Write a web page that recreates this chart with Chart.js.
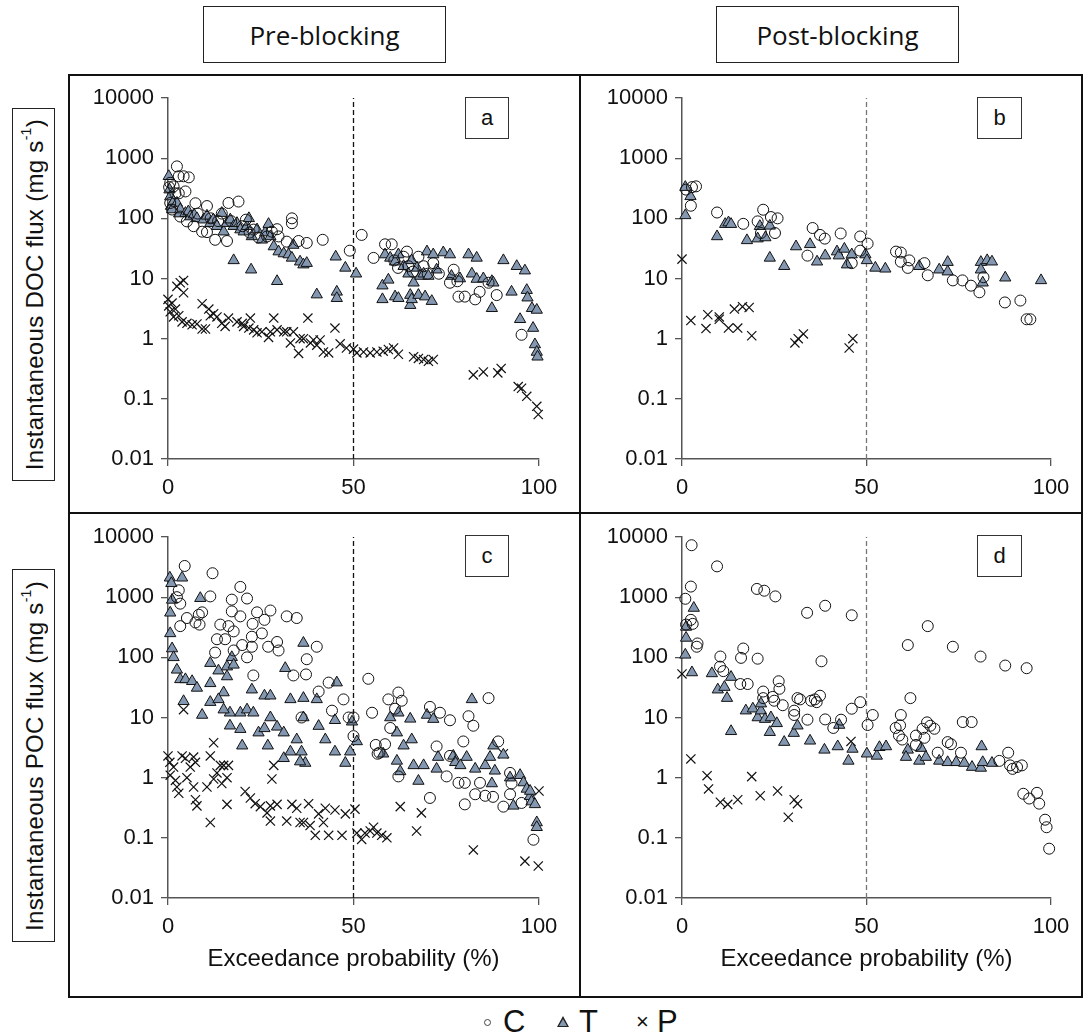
<!DOCTYPE html>
<html>
<head>
<meta charset="utf-8">
<script src="https://cdn.jsdelivr.net/npm/chart.js@4.4.1/dist/chart.umd.min.js"></script>
<style>
  body { margin: 0; background: #fff; }
  #page { position: relative; width: 1083px; height: 1036px; background: #fff; font-family: "Liberation Sans", Arial, sans-serif; color: #111; }
  .abs { position: absolute; box-sizing: border-box; }
  .head { border: 1px solid #222; font-family: "Open Sans", sans-serif; font-size: 26px; display: flex; align-items: center; justify-content: center; }
  .tag { border: 1px solid #333; font-size: 22px; display: flex; align-items: center; justify-content: center; background: #fff; z-index: 2; }
  .ylab { border: 1px solid #222; display: flex; align-items: center; justify-content: center; }
  .ylab span { writing-mode: vertical-rl; transform: rotate(180deg); font-size: 24px; letter-spacing: 0.3px; white-space: nowrap; }
  .ylab sup { font-size: 14px; }
  canvas { position: absolute; }
  .lg { position: absolute; top: 1004px; height: 36px; line-height: 36px; font-size: 31px; }
</style>
</head>
<body>
<div id="page">
  <div class="abs head" style="left:203px;top:6px;width:243px;height:57px">Pre-blocking</div>
  <div class="abs head" style="left:716px;top:6px;width:243px;height:57px">Post-blocking</div>

  <div class="abs" style="left:68px;top:74px;width:1015px;height:924px;border:2px solid #111"></div>
  <div class="abs" style="left:579px;top:74px;width:2px;height:924px;background:#111"></div>
  <div class="abs" style="left:68px;top:512px;width:1015px;height:2px;background:#111"></div>

  <div class="abs ylab" style="left:12px;top:108px;width:43px;height:373px"><span>Instantaneous DOC flux (mg s<sup>-1</sup>)</span></div>
  <div class="abs ylab" style="left:12px;top:569px;width:43px;height:373px"><span>Instantaneous POC flux (mg s<sup>-1</sup>)</span></div>

  <canvas id="cA" width="511" height="438" style="left:69px;top:75px"></canvas>
  <canvas id="cB" width="501" height="438" style="left:581px;top:75px"></canvas>
  <canvas id="cC" width="511" height="482" style="left:69px;top:514px"></canvas>
  <canvas id="cD" width="501" height="482" style="left:581px;top:514px"></canvas>

  <div class="abs tag" style="left:465px;top:97px;width:44px;height:42px">a</div>
  <div class="abs tag" style="left:977px;top:97px;width:45px;height:42px">b</div>
  <div class="abs tag" style="left:465px;top:535px;width:44px;height:42px">c</div>
  <div class="abs tag" style="left:977px;top:535px;width:45px;height:42px">d</div>

  <!-- legend -->
  <div class="abs" style="left:484px;top:1019px;width:7px;height:7px;border:1.5px solid #444;border-radius:50%"></div>
  <div class="lg" style="left:503px">C</div>
  <div class="abs" style="left:557px;top:1016px;width:12px;height:11px;background:#222;clip-path:polygon(50% 0,100% 100%,0 100%)"></div>
  <div class="abs" style="left:559px;top:1019px;width:8px;height:7px;background:#8497b0;clip-path:polygon(50% 0,100% 100%,0 100%)"></div>
  <div class="lg" style="left:579px">T</div>
  <div class="lg" style="left:636px;font-size:22px">&#215;</div>
  <div class="lg" style="left:657px">P</div>
</div>

<script>
// axis ticks
const xTicks = [0, 50, 100];
const yTicks = [0.01, 0.1, 1, 10, 100, 1000, 10000];
const seriesNames = ["C", "T", "P"];

// (a) DOC pre-blocking  [exceedance %, flux]
const docPreC = [[0.3,330],[0.6,390],[0.6,180],[1.1,140],[1.5,340],[2,260],[2.4,730],[2.9,260],[2.9,500],[3.3,107],[4.2,500],[4.7,280],[5.1,89],[5.6,480],[6.9,74],[7.4,178],[8,120],[9.2,60],[10.5,160],[10.5,59],[11.5,100],[12.7,44],[13.5,90],[14.5,120],[15.9,42],[16.3,180],[17,90],[19,190],[20,74],[21,95],[22,58],[23.1,65],[24.4,48],[26.7,50],[28,60],[29.4,66],[29.8,50],[32,41],[33.4,100],[33.4,83],[35.2,42],[37.4,39],[41.7,44],[49,29],[52.2,53],[55.4,22],[58.5,37],[60.3,37],[61,20],[62,15],[63.5,23],[64.4,28],[64.8,16],[66,13],[67.5,23],[68.9,16],[70,12],[71.5,18],[73,12],[76,8.5],[77,14],[78,9],[78.3,5],[80,5],[82.8,4.5],[84,6],[86.4,8.5],[88.6,5.3],[95.3,1.16]];
const docPreT = [[0.2,500],[0.4,300],[0.6,230],[0.8,160],[1.1,140],[1.5,190],[2.4,180],[3,120],[3.3,140],[4.7,122],[5.5,130],[6,107],[7,115],[7.8,100],[9.6,95],[10.5,110],[11.4,83],[12.2,95],[13.2,74],[14.5,122],[15,60],[15.9,83],[16.8,95],[17.7,74],[17.7,20],[18.6,83],[19.5,65],[20.4,60],[21.3,74],[21.8,100],[22.4,14],[22.6,50],[24,65],[25.3,44],[26.2,58],[27.1,80],[27.6,50],[28.5,34],[29.4,9],[29.8,28],[31.2,26],[32.5,25],[33.4,22],[33.8,36],[35.6,19],[36.5,17],[37.4,18],[40.1,5.4],[45.2,23],[45.5,6],[45.5,4.7],[47.8,15],[50.7,12],[57.8,7.6],[57.8,4.5],[58.5,25],[59.4,9.5],[59.9,22],[61.2,19],[61.2,5],[62.1,25],[62.1,4.7],[63.5,16],[64.8,12],[65.3,5.3],[65.3,3.6],[65.7,20],[65.7,4.5],[66.2,8.5],[67.1,15],[67.5,5.3],[68,11],[68.9,12],[69.3,5],[69.8,28],[70.2,11],[71.1,4.2],[71.5,25],[72.4,14],[74.2,27],[76,25],[76.4,11],[78.7,10],[81,25],[81.9,12],[83.2,22],[83.2,9.8],[85,10],[87.3,9],[87.3,3.2],[87.7,8.5],[90.4,20],[92.6,6],[94,16],[94.9,2.1],[96.2,13.5],[96.7,6.4],[96.9,4.8],[98.1,3.2],[98.4,1.5],[99.4,3],[98.9,0.8],[99.4,0.6],[99.6,0.5]];
const docPreP = [[0,4.5],[0.2,3.5],[0.6,2.8],[1.1,3.9],[1.5,2.3],[2,3.1],[2.4,7.4],[3.3,8.5],[4.2,9.3],[4.2,5.8],[2.9,2.4],[3.8,1.9],[5.1,1.8],[6.5,1.7],[7.8,1.75],[9.2,1.45],[10.1,1.45],[9.2,3.8],[11,3.1],[11.4,2.4],[12.3,2.6],[13.2,2.3],[14.5,1.8],[15.4,1.6],[16.3,2.2],[18.6,1.9],[20,1.8],[20.4,1.6],[22.2,2.2],[21.8,1.5],[23.1,1.4],[24,1.25],[25.3,1.3],[27.1,1.05],[27.6,1.3],[28.5,2.2],[29.4,1.4],[31.2,1.3],[32,1.3],[33,0.85],[33.8,1.3],[35.2,0.57],[35.6,1],[36.5,1],[37.7,2.2],[38.4,0.85],[39.2,0.95],[40.1,0.78],[41,0.95],[41.9,0.6],[43.3,0.58],[45,1.5],[46.4,0.82],[48.1,0.7],[50,0.67],[50.9,0.58],[52.7,0.6],[54.5,0.58],[56.3,0.6],[58,0.62],[59.4,0.66],[60.8,0.7],[62.1,0.55],[66.2,0.5],[67.5,0.47],[68.9,0.45],[70.2,0.42],[71.5,0.45],[82.3,0.25],[85,0.28],[88.9,0.27],[89.8,0.32],[94.4,0.16],[95.3,0.15],[96.7,0.11],[99.4,0.075],[99.8,0.055]];

// (b) DOC post-blocking
const docPostC = [[1.1,300],[2.4,162],[2.7,330],[3.8,340],[9.5,125],[16.6,81],[20.5,89],[21.4,57],[22,139],[24.1,105],[25.2,57],[25.9,100],[34,24],[35.4,69],[37.4,53],[38.7,46],[43,56],[46,18],[48.3,50],[48.3,29],[50.3,38],[58,28],[59.3,27],[59.3,19],[61.2,15],[61.6,20],[65.7,18],[66.6,11.3],[73.4,9.3],[76,9.3],[78.3,7.6],[80.6,5.9],[81.7,10.5],[87.5,4],[91.7,4.3],[93.4,2.1],[94.4,2.1]];
const docPostT = [[0.9,112],[0.9,330],[2.3,232],[9.5,50],[11.7,80],[12.6,85],[13.3,80],[17.6,43],[20.5,46],[21.1,74],[22.6,48],[23.8,75],[23.8,22],[27.7,16],[30.9,34],[34.7,37],[36.6,19],[38.8,24],[42,28],[42.5,24],[44,31],[44.7,17],[46,25],[49.7,25],[50.1,20],[52.4,15],[55.1,14.5],[64.3,16],[69.7,14],[72,18.7],[72,13],[81,18.7],[81,14],[81.5,8.5],[82.7,20],[84,19],[87.6,10.3],[97.3,9.3]];
const docPostP = [[0,21],[2.4,2],[6.5,1.47],[7,2.5],[10.1,2.1],[10.1,2.3],[12.6,1.5],[14.2,3.1],[15.1,1.5],[16.4,3.4],[18.2,3.3],[18.9,1.12],[30.6,0.85],[31.5,1],[32.9,1.2],[45.3,0.7],[46.3,1]];

// (c) POC pre-blocking
const pocPreC = [[4.5,3300],[12,2500],[11.4,1030],[19.5,1480],[17.2,910],[21.3,950],[19.5,480],[17.2,580],[24,560],[27.6,600],[32,480],[34.7,450],[26,420],[22.8,360],[9.2,560],[8.3,510],[7.4,380],[8.5,350],[5.1,450],[3.3,330],[2.4,1000],[3.3,780],[2.9,1300],[14.1,350],[16.3,330],[17.7,270],[15.4,200],[13.2,200],[12.7,120],[17.7,130],[20,160],[21.3,100],[22.6,150],[22.6,220],[25.3,250],[27,150],[29.4,180],[29.8,130],[37.4,93],[40.1,150],[33.8,50],[37.2,52],[23,50],[40.6,27],[43.3,38],[47.3,20],[54,44],[55,12],[48.7,10],[50,4.9],[59.4,20],[62.1,26],[63,19],[59.9,6.7],[61.2,14],[70.6,15],[73.3,12],[76,9],[81,10.5],[82.3,7.3],[86.4,21],[89,4],[79.6,4],[72.4,3.3],[62.1,1.05],[70.6,0.46],[78.3,0.82],[80,0.82],[80,0.36],[82.8,0.53],[84.1,0.82],[90.4,0.33],[95.3,0.38],[92.2,1.2],[92.2,0.53],[98.5,0.093],[56,3.5],[56.5,2.5],[58.5,3.6],[57,2.6],[75.1,1.05],[76,2.3],[85.5,0.5],[87.6,0.48],[92.6,0.8],[50,10],[44.2,13],[36,10]];
const pocPreT = [[0.5,2100],[0.9,1700],[1.1,900],[0.6,550],[0.6,250],[1.1,140],[3.8,2100],[8.7,960],[1.5,100],[2.4,62],[3.3,43],[4.7,43],[6.5,40],[7.8,31],[4.2,18.6],[9.2,11],[11.4,18],[11.4,37],[11.4,80],[13.6,60],[15.9,48],[15.9,70],[17.2,100],[17.7,75],[15,26],[13.6,20],[16.7,12],[15,13.5],[16.7,7.3],[19.5,6.4],[20,3.4],[19.5,12],[21.3,13.5],[23,12],[22.6,29],[24.4,5.6],[26,23],[27.6,23],[27.6,10],[26,6.6],[26.9,3.4],[29.4,7],[31.2,5.6],[31.6,66],[31.2,2.1],[33,20],[34.7,4.3],[33,2.7],[36,2.7],[36.5,21],[36.5,173],[36.5,10],[37,1.75],[35.6,1.85],[40.1,20],[40.6,7.2],[42.4,4.3],[45,9],[45.5,38],[45,2.7],[47.8,1.75],[49.1,2.7],[49.6,8.5],[50.9,4],[58,2.5],[59.9,10],[62.1,12],[61.7,5.6],[61.7,1.9],[62.6,1.27],[63.5,3.4],[65.3,9.5],[65.7,4.3],[66.2,1.6],[67.5,0.88],[68.9,1.6],[69.8,11],[71.5,9.4],[72.4,1.4],[72.8,2.2],[76.9,2.3],[77.4,1.8],[78.8,1.6],[80.5,2.2],[81.9,20],[82.8,1.4],[85.5,1.6],[86.8,2.2],[87.3,0.8],[87.7,3.4],[88.1,1.3],[90.4,2.4],[92.2,1],[93.1,0.34],[94.9,1.1],[95.8,0.83],[96.7,0.65],[97.6,0.49],[97.6,0.6],[98,0.4],[98.9,0.36],[99.4,0.18],[99.4,0.15]];
const pocPreP = [[0,2.3],[0.5,1.8],[0.6,1.1],[1.5,1.5],[2,0.9],[2.4,0.7],[2.9,0.55],[3.8,2.3],[4.7,2.1],[5.1,1],[6,1.5],[6.9,2.2],[7.4,1.8],[6.9,0.7],[7.8,0.34],[7.4,0.43],[10.5,0.7],[11.4,2.3],[12.3,3.8],[11.4,0.18],[12.3,0.95],[13.2,1.2],[14.1,1.6],[15,1.6],[14.5,0.8],[15.9,0.36],[15.9,1],[16.3,1.6],[4.2,13.5],[20.8,0.59],[22.2,0.46],[23.5,0.37],[24.9,0.33],[26.7,0.26],[27.6,0.19],[27.6,0.34],[28.5,1.6],[28,0.95],[29.4,0.36],[32,0.19],[33.4,0.36],[34.7,0.31],[35.6,0.18],[36.5,0.18],[37.9,0.37],[38.3,0.16],[39.7,0.11],[40.6,0.25],[41.9,0.18],[42.4,0.31],[43.3,0.11],[45,0.29],[46.9,0.11],[47.8,0.25],[50.4,0.3],[50.9,0.12],[52.2,0.094],[53.1,0.12],[54.5,0.13],[55.4,0.15],[56.3,0.12],[57.6,0.11],[59,0.1],[62.6,0.33],[67,0.13],[68.3,0.26],[82.3,0.063],[96.2,0.041],[99.8,0.034],[100,0.6],[90.4,2.5]];

// (d) POC post-blocking
const pocPostC = [[2.6,7300],[9.5,3250],[2.4,1500],[0.9,940],[20.3,1370],[22.3,1280],[25.3,1030],[33.9,550],[38.8,720],[46,500],[1.1,350],[2.4,420],[2.9,360],[4.2,170],[4,150],[10.4,103],[10.3,70],[11.2,59],[16.6,140],[16,98],[20.5,95],[15.8,36],[17.8,36],[22,27],[22,21],[24.6,22],[25,19],[26.2,40],[26.4,30],[27.3,16],[30.4,13],[30.4,11],[31.3,21],[32,20],[35,19],[36,20],[36.5,18],[37.4,23],[37.8,86],[34,9.2],[38.8,9.3],[41,6.7],[43.1,9.2],[46,14],[48.3,18],[50.3,7.5],[51.7,11],[61.2,160],[66.6,330],[73.4,150],[80.9,103],[87.6,73],[93.4,66],[61.9,21],[59.3,11],[59.1,7.4],[57.9,6.7],[58.8,5],[59.7,4.3],[63.4,5],[63.4,3.5],[65.2,6.5],[65.7,4.6],[66.4,8.3],[67.3,7.3],[68.4,6.5],[69.3,2.6],[72,3.9],[72.9,3.6],[76.1,8.4],[78.5,8.4],[75.6,2.6],[86,1.9],[88.4,2.6],[88.9,1.6],[89.6,1.4],[90.8,1.5],[92.1,1.6],[92.5,0.54],[94.1,0.45],[96.2,0.56],[96.8,0.37],[98.4,0.2],[98.8,0.15],[99.5,0.066]];
const pocPostT = [[0.9,110],[1.1,320],[1.1,210],[3.2,660],[2.7,56],[8.1,54],[9.7,29],[11.5,32],[12.2,21],[13.3,47],[13.3,5.9],[17.3,13],[19.2,14],[20.5,10],[21.4,13],[21.4,17],[22.5,9.4],[24.1,10],[23.8,5.7],[25.7,8],[27.7,3.9],[30.3,5.5],[31.3,7.3],[34.7,4.1],[38.6,2.9],[42.2,3.3],[42.6,7.5],[45.1,1.9],[46.2,3],[50.1,2.5],[52.8,2.3],[53.5,3.2],[55.3,3.3],[61.2,2.9],[60.7,2.2],[64.3,1.9],[64.8,3.1],[66.1,2.2],[69.7,1.9],[72,1.8],[74.3,1.8],[76.5,1.75],[78.6,1.5],[81,1.45],[81.2,3.3],[81.5,1.8],[84,1.75]];
const pocPostP = [[0,53],[2.4,2.05],[6.8,1.08],[7.2,0.65],[10.4,0.39],[12.4,0.36],[15.1,0.43],[18.9,1.04],[21.2,0.5],[25.9,0.6],[28.8,0.22],[30.4,0.43],[31.3,0.37],[45.8,4]];

const axisColor = "#555";
const tickFont = { family: "Liberation Sans, Arial, sans-serif", size: 22 };

function pts(arr) {
  return arr.map(([x, y]) => ({ x: x, y: y }));
}

function makePanel(id, c, t, p, o) {
  const ctx = document.getElementById(id);
  return new Chart(ctx, {
    type: "scatter",
    data: {
      datasets: [
        { label: seriesNames[0], data: pts(c), pointStyle: "circle", pointRadius: 5.5, borderColor: "#111", borderWidth: 1, backgroundColor: "rgba(255,255,255,0)", clip: false },
        { label: seriesNames[1], data: pts(t), pointStyle: "triangle", pointRadius: 6.5, borderColor: "#111", borderWidth: 1, backgroundColor: "#8497b0", clip: false },
        { label: seriesNames[2], data: pts(p), pointStyle: "crossRot", pointRadius: 6.5, borderColor: "#111", borderWidth: 1.2, clip: false },
        // 50% line
        { type: "line", data: [{ x: 50, y: yTicks[0] }, { x: 50, y: yTicks[yTicks.length - 1] }], borderColor: o.dashColor, borderWidth: 1.3, borderDash: [5, 3], pointRadius: 0, fill: false }
      ]
    },
    options: {
      responsive: false,
      animation: false,
      layout: { autoPadding: false, padding: { top: 23, right: o.right, bottom: 0, left: 0 } },
      plugins: { legend: { display: false }, tooltip: { enabled: false } },
      scales: {
        x: {
          type: "linear", min: 0, max: 100,
          afterBuildTicks: (s) => { s.ticks = xTicks.map((v) => ({ value: v })); },
          afterFit: (s) => { s.height = o.xh; },
          grid: { drawOnChartArea: false, tickLength: 7, color: axisColor, lineWidth: 1.3 },
          border: { color: axisColor, width: 1.5 },
          ticks: { font: tickFont, color: "#111", padding: 9, maxRotation: 0 },
          title: { display: o.xTitle, text: "Exceedance probability (%)", font: { family: "Liberation Sans, Arial, sans-serif", size: 24 }, color: "#111", padding: { top: 0, bottom: 22 } }
        },
        y: {
          type: "logarithmic", min: yTicks[0], max: yTicks[yTicks.length - 1],
          afterBuildTicks: (s) => { s.ticks = yTicks.map((v) => ({ value: v })); },
          afterFit: (s) => { s.width = o.yw; },
          grid: { drawOnChartArea: false, tickLength: 7, color: axisColor, lineWidth: 1.3 },
          border: { color: axisColor, width: 1.5 },
          ticks: { font: tickFont, color: "#111", padding: 7, callback: (v) => String(v) }
        }
      }
    }
  });
}

makePanel("cA", docPreC, docPreT, docPreP, { right: 41, xh: 438 - 23 - 361, yw: 99, dashColor: "#111", xTitle: false });
makePanel("cB", docPostC, docPostT, docPostP, { right: 31, xh: 438 - 23 - 361, yw: 101, dashColor: "#777", xTitle: false });
makePanel("cC", pocPreC, pocPreT, pocPreP, { right: 41, xh: 482 - 23 - 361, yw: 99, dashColor: "#111", xTitle: true });
makePanel("cD", pocPostC, pocPostT, pocPostP, { right: 31, xh: 482 - 23 - 361, yw: 101, dashColor: "#777", xTitle: true });
</script>
</body>
</html>
